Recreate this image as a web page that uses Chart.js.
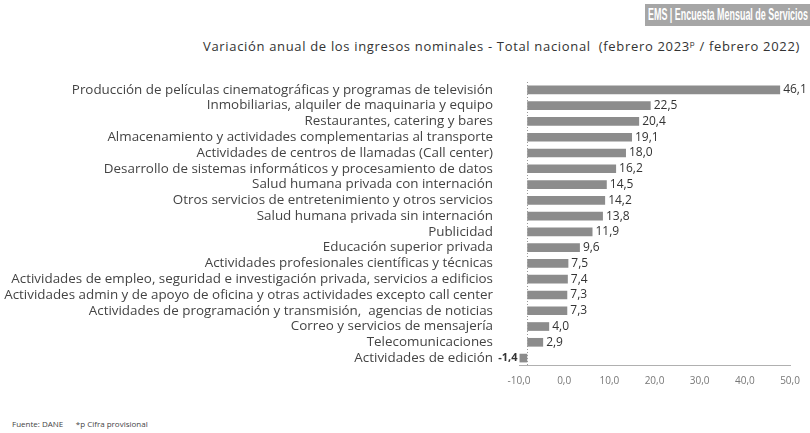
<!DOCTYPE html>
<html><head><meta charset="utf-8">
<script src="https://cdn.jsdelivr.net/npm/chart.js@4/dist/chart.umd.min.js"></script>
<style>
html,body{margin:0;padding:0;background:#fff;width:810px;height:433px;overflow:hidden;font-family:'Open Sans',sans-serif;}
#header{position:absolute;left:645px;top:4px;width:165px;height:22px;background:#a6a6a6;overflow:hidden;}
#header span{position:absolute;left:3px;top:0;color:#fff;font-size:16px;font-weight:bold;line-height:22px;white-space:nowrap;transform-origin:0 50%;font-family:'Liberation Sans','DejaVu Sans',sans-serif;}
#subtitle{position:absolute;left:203px;top:37px;font-size:13px;color:#333;white-space:nowrap;}
#subtitle sup{font-size:8px;}
#wrap{position:absolute;left:0;top:0;width:810px;height:400px;}
#footer{position:absolute;left:12px;top:418px;font-size:8px;color:#444;white-space:nowrap;}
</style></head>
<body>
<div id="header"><span id="htxt">EMS | Encuesta Mensual de Servicios</span></div>
<div id="subtitle">Variación anual de los ingresos nominales - Total nacional&nbsp; (febrero 2023<sup>p</sup> / febrero 2022)</div>
<div id="wrap"><canvas id="c" width="810" height="400"></canvas></div>
<div id="footer">Fuente: DANE&nbsp;&nbsp;&nbsp;&nbsp;&nbsp;&nbsp;*p Cifra provisional</div>
<script>
const categories = [
  "Producción de películas cinematográficas y programas de televisión",
  "Inmobiliarias, alquiler de maquinaria y equipo",
  "Restaurantes, catering y bares",
  "Almacenamiento y actividades complementarias al transporte",
  "Actividades de centros de llamadas (Call center)",
  "Desarrollo de sistemas informáticos y procesamiento de datos",
  "Salud humana privada con internación",
  "Otros servicios de entretenimiento y otros servicios",
  "Salud humana privada sin internación",
  "Publicidad",
  "Educación superior privada",
  "Actividades profesionales científicas y técnicas",
  "Actividades de empleo, seguridad e investigación privada, servicios a edificios",
  "Actividades admin y de apoyo de oficina y otras actividades excepto call center",
  "Actividades de programación y transmisión,  agencias de noticias",
  "Correo y servicios de mensajería",
  "Telecomunicaciones",
  "Actividades de edición"
];
const values = [46.1, 22.5, 20.4, 19.1, 18.0, 16.2, 14.5, 14.2, 13.8, 11.9, 9.6, 7.5, 7.4, 7.3, 7.3, 4.0, 2.9, -1.4];
const axisTickValues = [-10, 0, 10, 20, 30, 40, 50];

const fmt = v => v.toFixed(1).replace('.', ',');

(function () {
  const h = document.getElementById('htxt');
  const hw = h.getBoundingClientRect().width;
  h.style.transform = 'scaleX(' + (160 / hw) + ')';
  const s = document.getElementById('subtitle');
  const sw = s.getBoundingClientRect().width;
  const n = s.textContent.length;
  s.style.letterSpacing = ((597 - sw) / n) + 'px';
})();

const labelPlugin = {
  id: 'labels',
  afterDatasetsDraw(chart) {
    const ctx = chart.ctx;
    const xs = chart.scales.x;
    const area = chart.chartArea;
    const x0 = Math.round(xs.getPixelForValue(0)) + 0.5;
    ctx.save();
    ctx.strokeStyle = '#9a9a9a';
    ctx.lineWidth = 1;
    ctx.setLineDash([1, 2]);
    ctx.beginPath();
    ctx.moveTo(x0, area.top);
    ctx.lineTo(x0, area.bottom);
    ctx.stroke();
    ctx.setLineDash([]);
    const meta = chart.getDatasetMeta(0);
    ctx.font = '12px "Open Sans", sans-serif';
    ctx.fillStyle = '#333';
    ctx.textBaseline = 'middle';
    meta.data.forEach((bar, i) => {
      const v = values[i];
      if (v >= 0) {
        ctx.textAlign = 'left';
        ctx.fillText(fmt(v), bar.x + 3, bar.y);
      } else {
        ctx.font = 'bold 11px "Open Sans", sans-serif';
        ctx.textAlign = 'right';
        ctx.fillText(fmt(v), bar.x - 2, bar.y);
      }
    });
    ctx.restore();
  }
};

new Chart(document.getElementById('c'), {
  type: 'bar',
  data: {
    labels: categories,
    datasets: [{
      data: values,
      backgroundColor: '#8c8c8c',
      borderWidth: 0,
      barPercentage: 0.55,
      categoryPercentage: 1.0,
      xAxisID: 'x'
    }]
  },
  options: {
    indexAxis: 'y',
    responsive: false,
    animation: false,
    devicePixelRatio: 1,
    layout: { padding: { top: 82, right: 20, left: 0, bottom: 0 } },
    plugins: { legend: { display: false }, tooltip: { enabled: false } },
    scales: {
      x: {
        display: false,
        min: -1.5,
        max: 47.9
      },
      x2: {
        type: 'linear',
        position: 'bottom',
        min: -10,
        max: 50,
        afterBuildTicks: s => { s.ticks = axisTickValues.map(v => ({ value: v })); },
        grid: { display: false, drawTicks: false },
        border: { display: true, color: '#b0b0b0', dash: [1, 2] },
        ticks: {
          padding: 9,
          color: '#777',
          font: { family: 'Open Sans', size: 10 },
          callback: v => fmt(v)
        },
        afterFit: s => { s.height = 26; }
      },
      y: {
        grid: { display: false, drawTicks: false },
        border: { display: false },
        ticks: {
          padding: 26,
          color: '#444',
          autoSkip: false,
          font: { family: 'Open Sans', size: 13.4 }
        },
        afterFit: s => { s.width = 519; }
      }
    }
  },
  plugins: [labelPlugin]
});
</script>
</body></html>
